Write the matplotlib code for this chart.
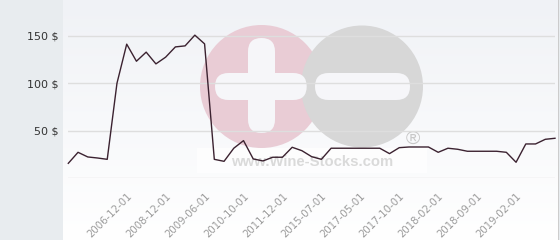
import numpy as np
import matplotlib
matplotlib.use("Agg")
import matplotlib.pyplot as plt
from matplotlib.patches import Circle, FancyBboxPatch, Rectangle
from matplotlib.colors import LinearSegmentedColormap

# ---- data ----
prices = [15.8, 27.4, 22.5, 21.4, 20.0, 100.2, 141.4, 123.4, 133.0, 120.6,
          127.7, 138.5, 139.6, 150.9, 141.7, 20.0, 17.9, 31.7, 39.7, 20.4,
          18.3, 22.2, 22.2, 32.7, 29.1, 22.8, 20.0, 31.7, 31.7, 31.7,
          31.7, 31.7, 31.7, 26.0, 32.3, 33.0, 33.0, 33.0, 27.4, 31.7,
          30.6, 28.5, 28.5, 28.5, 28.5, 27.4, 16.9, 36.2, 36.2, 41.1, 42.2]
tick_idx = [6, 10, 14, 18, 22, 26, 30, 34, 38, 42, 46]
tick_labels = ["2006-12-01", "2008-12-01", "2009-06-01", "2010-10-01",
               "2011-12-01", "2015-07-01", "2017-05-01", "2017-10-01",
               "2018-02-01", "2018-09-01", "2019-02-01"]
y_ticks = [50, 100, 150]
y_labels = ["50 $", "100 $", "150 $"]

W, H = 560, 240
fig = plt.figure(figsize=(W / 100, H / 100), dpi=100)
fig.patch.set_facecolor("#e8ecef")

# background / watermark axes in pixel coordinates
bx0, bx1 = 63, 559
bg = fig.add_axes([bx0 / W, 0, (bx1 - bx0) / W, 1])
bg.set_xlim(bx0, bx1)
bg.set_ylim(H, 0)
bg.axis("off")
cmap = LinearSegmentedColormap.from_list("g", ["#f0f2f6", "#ffffff"])
grad = np.linspace(0, 1, 256).reshape(-1, 1)
bg.imshow(grad, cmap=cmap, extent=[bx0, bx1, H, 0], aspect="auto", zorder=0)
bg.plot([558.5, 558.5], [0, H], color="#c4c4c4", lw=1.2, zorder=1)

# watermark
bg.add_patch(Rectangle((197, 148), 230, 25, facecolor="white", alpha=0.75,
                       edgecolor="none", zorder=1))
bg.add_patch(Circle((261.5, 86.5), 61.5, facecolor="#e9ccd5", edgecolor="none", zorder=2))
bg.add_patch(Circle((362, 86.5), 61, facecolor="#d7d7d7", edgecolor="none", zorder=3))
barc = "#f6f6f9"
for (x0, y0, w, h) in [(248, 38, 27, 95), (215, 73, 91.7, 27), (315, 73, 95, 27)]:
    bg.add_patch(FancyBboxPatch((x0, y0), w, h,
                                boxstyle="round,pad=0,rounding_size=13.5",
                                facecolor=barc, edgecolor="none", zorder=4))
bg.text(311.7, 162, "www.Wine-Stocks.com", ha="center", va="center",
        fontsize=10.7, fontweight="bold", family="Liberation Sans",
        color="#dadada", zorder=4)
bg.text(412.7, 139, "®", ha="center", va="center", fontsize=14,
        family="Liberation Sans", color="#c8c8c8", zorder=4)

# main axes
px_left, px_right = 68.3, 555.0
y0_px, y150_px = 178.3, 36.0
ppu = (y0_px - y150_px) / 150.0
ymax = 160
top_px = y0_px - ymax * ppu
ax = fig.add_axes([px_left / W, (H - y0_px) / H, (px_right - px_left) / W,
                   (y0_px - top_px) / H])
ax.set_facecolor("none")
ax.set_xlim(0, len(prices) - 1)
ax.set_ylim(0, ymax)
for s in ax.spines.values():
    s.set_visible(False)
ax.set_yticks(y_ticks)
ax.set_yticklabels(y_labels, fontsize=8, color="#333333")
ax.set_xticks(tick_idx)
ax.set_xticklabels(tick_labels, fontsize=7.3, color="#9a9a9a", rotation=45,
                   ha="right", va="top", rotation_mode="anchor")
ax.tick_params(axis="both", length=0)
ax.tick_params(axis="y", pad=7)
ax.tick_params(axis="x", pad=9)
for v in [0] + y_ticks:
    ax.axhline(v, color="#dedede", lw=1, zorder=1)
ax.plot(range(len(prices)), prices, color="#3b2230", lw=1.0, zorder=3,
        clip_on=False)

fig.savefig("out.png", dpi=100, facecolor=fig.get_facecolor())
